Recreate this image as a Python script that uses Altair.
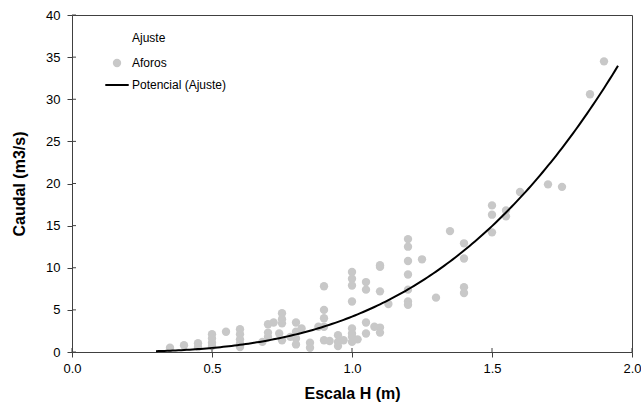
import altair as alt
import pandas as pd

# Aforos (measured gaugings): stage H (m) and discharge Q (m3/s)
H_AFOROS = [0.35, 0.40, 0.45, 0.45,
            0.50, 0.50, 0.50, 0.50,
            0.55,
            0.60, 0.60, 0.60, 0.60, 0.60,
            0.68, 0.70, 0.70, 0.70, 0.72, 0.74,
            0.75, 0.75, 0.75, 0.75, 0.78,
            0.80, 0.80, 0.80, 0.80, 0.82, 0.85, 0.85, 0.88,
            0.90, 0.90, 0.90, 0.90, 0.90, 0.92,
            0.95, 0.95, 0.95, 0.97,
            1.00, 1.00, 1.00, 1.00, 1.00, 1.00, 1.00, 1.00, 1.02,
            1.05, 1.05, 1.05, 1.05, 1.08,
            1.10, 1.10, 1.10, 1.10, 1.10, 1.13,
            1.20, 1.20, 1.20, 1.20, 1.20, 1.20, 1.20,
            1.25, 1.30, 1.35,
            1.40, 1.40, 1.40, 1.40,
            1.50, 1.50, 1.50, 1.55, 1.55,
            1.60, 1.70, 1.75, 1.85, 1.90]
Q_AFOROS = [0.5, 0.8, 1.05, 0.6,
            2.1, 1.6, 1.1, 0.7,
            2.4,
            2.7, 2.1, 1.5, 1.0, 0.6,
            1.2, 3.3, 2.3, 1.8, 3.5, 2.2,
            4.6, 3.9, 3.4, 1.4, 1.8,
            3.5, 2.4, 1.6, 0.9, 2.8, 1.1, 0.5, 3.0,
            7.8, 5.0, 4.0, 3.0, 1.4, 1.3,
            2.0, 1.2, 0.7, 1.4,
            9.5, 8.7, 7.9, 6.0, 2.8, 2.2, 1.8, 1.2, 1.5,
            8.3, 7.4, 3.5, 2.2, 3.0,
            10.3, 10.1, 7.2, 2.9, 2.3, 5.7,
            13.4, 12.5, 10.8, 9.2, 7.4, 6.0, 5.6,
            11.0, 6.45, 14.35,
            12.9, 11.1, 7.7, 7.0,
            17.4, 16.3, 14.2, 16.8, 16.1,
            19.0, 19.9, 19.6, 30.6, 34.5]

# Power trendline "Potencial (Ajuste)": Q = a * H^b
POW_COEF = 4.2
POW_EXP = 3.13
H_CURVE_MIN = 0.30
H_CURVE_MAX = 1.95

SERIES = ["Ajuste", "Aforos", "Potencial (Ajuste)"]
SERIES_COLORS = ["transparent", "#c8c8c8", "#000000"]
X_TICKS = [0.0, 0.5, 1.0, 1.5, 2.0]
Y_TICKS = [0, 5, 10, 15, 20, 25, 30, 35, 40]

FONT = "Liberation Sans"
PLOT_W = 560
PLOT_H = 337
AXIS_COLOR = "#404040"

df = pd.DataFrame({"H": H_AFOROS, "Q": Q_AFOROS, "serie": ["Aforos"] * len(H_AFOROS)})
xticks_df = pd.DataFrame({"H": X_TICKS})
yticks_df = pd.DataFrame({"Q": Y_TICKS})

x_scale = alt.Scale(domain=[0, 2], nice=False, zero=False)
y_scale = alt.Scale(domain=[0, 40], nice=False)

x_enc = alt.X("H:Q", scale=x_scale,
              axis=alt.Axis(values=X_TICKS, format=".1f", title="Escala H (m)"))
y_enc = alt.Y("Q:Q", scale=y_scale,
              axis=alt.Axis(values=Y_TICKS, title="Caudal (m3/s)"))

line_sel = "datum.value === 'Potencial (Ajuste)'"

points = alt.Chart(df).mark_circle(size=70, opacity=1).encode(
    x=x_enc,
    y=y_enc,
    color=alt.Color(
        "serie:N",
        scale=alt.Scale(domain=SERIES, range=SERIES_COLORS),
        legend=alt.Legend(
            title=None,
            orient="none",
            legendX=39,
            legendY=17,
            padding=0,
            symbolSize=70,
            symbolType=alt.ExprRef(expr=f"{line_sel} ? 'M-2.8,0H2.8' : 'circle'"),
            symbolStrokeColor=alt.ExprRef(expr=f"{line_sel} ? '#000000' : 'transparent'"),
            symbolStrokeWidth=2,
            labelFont=FONT,
            labelFontSize=12,
            labelColor="#000000",
            labelOffset=9,
            rowPadding=7,
        ),
    ),
)

curve = (
    alt.Chart(alt.sequence(H_CURVE_MIN, H_CURVE_MAX + 0.005, 0.01, as_="H"))
    .transform_calculate(Q=f"{POW_COEF} * pow(datum.H, {POW_EXP})")
    .mark_line(color="#000000", strokeWidth=2)
    .encode(x="H:Q", y="Q:Q")
)

# inner half of the cross-style tick marks (outer half drawn by the axes)
x_inner_ticks = alt.Chart(xticks_df).mark_rule(color=AXIS_COLOR, strokeWidth=1).encode(
    x="H:Q", y=alt.value(PLOT_H - 4), y2=alt.value(PLOT_H)
)
y_inner_ticks = alt.Chart(yticks_df).mark_rule(color=AXIS_COLOR, strokeWidth=1).encode(
    y="Q:Q", x=alt.value(0), x2=alt.value(4)
)

chart = (
    alt.layer(points, curve, x_inner_ticks, y_inner_ticks)
    .properties(
        width=PLOT_W,
        height=PLOT_H,
        autosize=alt.AutoSizeParams(type="none"),
        padding={"left": 72, "top": 15, "right": 9, "bottom": 54},
        background="white",
    )
    .configure_view(stroke=AXIS_COLOR, strokeWidth=1)
    .configure_axis(
        domain=False,
        grid=False,
        ticks=True,
        tickSize=5,
        tickColor=AXIS_COLOR,
        labelFlush=False,
        labelFont=FONT,
        labelFontSize=13,
        labelColor="#000000",
        titleFont=FONT,
        titleFontSize=16,
        titleFontWeight="bold",
        titleColor="#000000",
    )
    .configure_axisY(labelPadding=7, titlePadding=18)
    .configure_axisX(labelPadding=5, titlePadding=10)
)

chart.save("out.html", embed_options={"renderer": "svg", "actions": False})
